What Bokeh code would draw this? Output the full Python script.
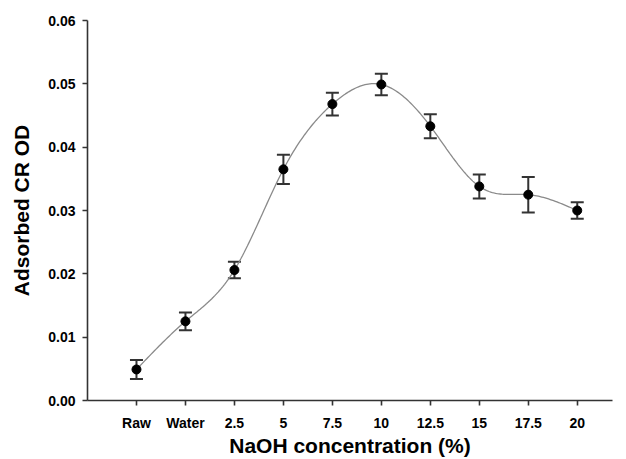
import numpy as np
from bokeh.plotting import figure
from bokeh.models import FixedTicker, Range1d, Whisker, ColumnDataSource, NumeralTickFormatter
from bokeh.embed import file_html
from bokeh.resources import INLINE

categories = ["Raw", "Water", "2.5", "5", "7.5", "10", "12.5", "15", "17.5", "20"]
od_mean = [0.0049, 0.0125, 0.0206, 0.0365, 0.0468, 0.0499, 0.0433, 0.0338, 0.0325, 0.0300]
od_err = [0.0015, 0.0014, 0.0013, 0.0023, 0.0018, 0.0017, 0.0019, 0.0019, 0.0028, 0.0013]
y_ticks = [0.00, 0.01, 0.02, 0.03, 0.04, 0.05, 0.06]

xs = np.arange(len(categories), dtype=float)
ys = np.array(od_mean)

# natural cubic spline through the means (curve drawn by the original software)
n = len(xs)
h = np.diff(xs)
A = np.zeros((n, n))
b = np.zeros(n)
A[0, 0] = 1
A[-1, -1] = 1
for i in range(1, n - 1):
    A[i, i - 1] = h[i - 1]
    A[i, i] = 2 * (h[i - 1] + h[i])
    A[i, i + 1] = h[i]
    b[i] = 3 * ((ys[i + 1] - ys[i]) / h[i] - (ys[i] - ys[i - 1]) / h[i - 1])
c = np.linalg.solve(A, b)
sx, sy = [], []
for i in range(n - 1):
    bi = (ys[i + 1] - ys[i]) / h[i] - h[i] * (2 * c[i] + c[i + 1]) / 3
    di = (c[i + 1] - c[i]) / (3 * h[i])
    t = np.linspace(0, h[i], 30, endpoint=(i == n - 2))
    sx.extend(xs[i] + t)
    sy.extend(ys[i] + bi * t + c[i] * t ** 2 + di * t ** 3)

p = figure(width=626, height=459, output_backend="svg", toolbar_location=None,
           x_range=Range1d(-1.0, 9.72), y_range=Range1d(0, 0.06),
           min_border_left=87, min_border_right=14, min_border_top=20, min_border_bottom=59)
p.outline_line_color = None
p.xgrid.visible = False
p.ygrid.visible = False
p.background_fill_color = "white"

p.line(sx, sy, line_color="#8a8a8a", line_width=1.3)

src = ColumnDataSource(dict(x=xs, y=ys,
                            lo=ys - np.array(od_err), hi=ys + np.array(od_err)))
w = Whisker(source=src, base="x", lower="lo", upper="hi", line_color="#333333", line_width=2)
w.upper_head.size = 13
w.lower_head.size = 13
w.upper_head.line_color = "#333333"
w.lower_head.line_color = "#333333"
w.upper_head.line_width = 2
w.lower_head.line_width = 2
p.add_layout(w)

p.scatter("x", "y", source=src, size=9, fill_color="black", line_color="black")

font = "Liberation Sans"
for ax in (p.xaxis[0], p.yaxis[0]):
    ax.axis_line_color = "#333333"
    ax.axis_line_width = 1.6
    ax.major_tick_line_color = "#333333"
    ax.major_tick_line_width = 1.6
    ax.major_tick_out = 5
    ax.major_tick_in = 0
    ax.minor_tick_line_color = None
    ax.major_label_text_font = font
    ax.major_label_text_font_style = "bold"
    ax.major_label_text_font_size = "14px"
    ax.major_label_text_color = "black"
    ax.axis_label_text_font = font
    ax.axis_label_text_font_style = "bold"
    ax.axis_label_text_font_size = "21px"
    ax.axis_label_text_color = "black"

p.xaxis.ticker = FixedTicker(ticks=list(xs))
p.xaxis.major_label_overrides = {float(i): c_ for i, c_ in enumerate(categories)}
p.xaxis.major_label_overrides.update({int(i): c_ for i, c_ in enumerate(categories)})
p.xaxis.major_label_standoff = 9
p.xaxis.axis_label = "NaOH concentration (%)"
p.xaxis.axis_label_standoff = 0

p.yaxis.ticker = FixedTicker(ticks=y_ticks)
p.yaxis.formatter = NumeralTickFormatter(format="0.00")
p.yaxis.major_label_standoff = 7
p.yaxis.axis_label = "Adsorbed CR OD"
p.yaxis.axis_label_standoff = 12

open("out.html", "w").write(file_html(p, INLINE))
